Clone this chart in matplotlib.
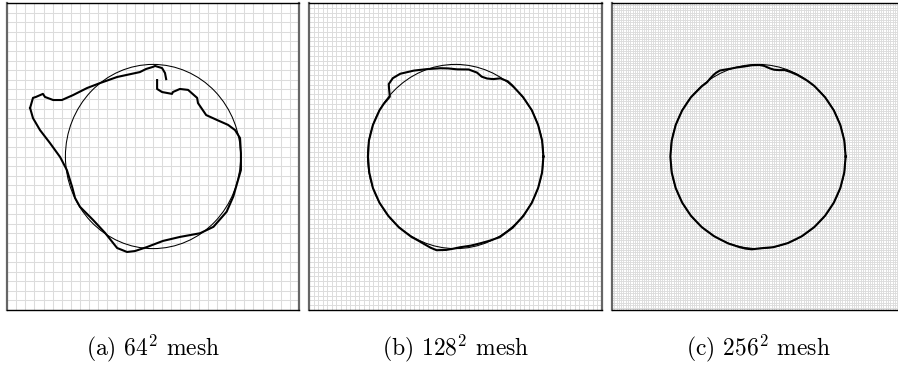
import numpy as np
import matplotlib
matplotlib.use("Agg")
import matplotlib.pyplot as plt
from matplotlib.patches import Circle

plt.rcParams['mathtext.fontset'] = 'cm'

# mesh resolution and the number of grid cells shown in each panel
mesh_sizes = [64, 128, 256]
grid_cells = [32, 64, 128]
panel_tags = ['a', 'b', 'c']

# exact interface: circle in the unit box
circle_center = (0.5, 0.5)
circle_radius = 0.3

# computed interface on the 64^2 mesh (nan = break in the contour)
x64 = [0.079, 0.089, 0.099, 0.123, 0.130, 0.158, 0.188, 0.226, 0.274, 0.318, 0.377, 0.455, 0.476, 0.500,
       0.507, 0.531, 0.541, 0.545, np.nan,
       0.514, 0.514, 0.531, 0.565, 0.568, 0.592, 0.620, 0.651, 0.654, 0.682, 0.719, 0.757, 0.781,
       0.798, 0.801, 0.801, 0.791, 0.775, 0.752, 0.707, 0.661, 0.592, 0.534, 0.479, 0.438, 0.411,
       0.377, 0.336, 0.295, 0.250, 0.233, 0.223, 0.205, 0.182, 0.147, 0.113, 0.089, 0.079]
y64 = [0.658, 0.691, 0.694, 0.704, 0.694, 0.684, 0.684, 0.700, 0.723, 0.739, 0.759, 0.775, 0.785, 0.792,
       0.795, 0.788, 0.772, 0.752, np.nan,
       0.749, 0.720, 0.710, 0.704, 0.710, 0.720, 0.717, 0.691, 0.674, 0.635, 0.619, 0.603, 0.586,
       0.560, 0.511, 0.456, 0.423, 0.370, 0.320, 0.271, 0.250, 0.238, 0.225, 0.205, 0.192, 0.189,
       0.202, 0.251, 0.293, 0.336, 0.365, 0.401, 0.456, 0.498, 0.544, 0.586, 0.625, 0.658]

# computed interface on the 128^2 mesh, polar about the circle centre (deg, radius)
theta128 = [0, 10, 20, 30, 40, 50, 54, 59, 63, 67, 71, 75, 81, 89, 95, 100, 109, 117, 125, 130,
            134, 136, 139, 145, 150, 160, 170, 180, 190, 200, 210, 220, 230, 240, 245, 250, 254,
            258, 264, 268, 273, 280, 286, 293, 300, 310, 320, 330, 340, 350, 360]
r128 = [0.300, 0.300, 0.300, 0.301, 0.301, 0.302, 0.303, 0.297, 0.283, 0.276, 0.275, 0.283, 0.287,
        0.284, 0.288, 0.292, 0.301, 0.314, 0.329, 0.333, 0.328, 0.315, 0.297, 0.299, 0.300, 0.300,
        0.300, 0.299, 0.299, 0.300, 0.300, 0.300, 0.301, 0.302, 0.302, 0.305, 0.309, 0.312, 0.306,
        0.301, 0.296, 0.295, 0.295, 0.298, 0.303, 0.303, 0.302, 0.301, 0.300, 0.300, 0.300]

# computed interface on the 256^2 mesh, polar about the circle centre (deg, radius)
theta256 = [0, 10, 20, 30, 40, 50, 56, 63, 68, 72, 76, 79, 82, 86, 89, 94, 99, 104, 108, 112, 115,
            118, 120, 123, 126, 130, 140, 150, 160, 170, 180, 190, 200, 210, 220, 230, 240, 250,
            258, 262, 266, 272, 280, 290, 300, 310, 320, 330, 340, 350, 360]
r256 = [0.300, 0.300, 0.300, 0.300, 0.300, 0.300, 0.299, 0.298, 0.297, 0.296, 0.290, 0.288, 0.290,
        0.296, 0.298, 0.298, 0.297, 0.299, 0.301, 0.305, 0.309, 0.308, 0.306, 0.302, 0.298, 0.299,
        0.300, 0.300, 0.300, 0.300, 0.300, 0.300, 0.300, 0.300, 0.300, 0.300, 0.300, 0.301, 0.302,
        0.303, 0.303, 0.299, 0.300, 0.300, 0.300, 0.300, 0.300, 0.300, 0.300, 0.300, 0.300]


def polar_to_xy(theta, r):
    t = np.radians(theta)
    r = np.asarray(r)
    return circle_center[0] + r * np.cos(t), circle_center[1] + r * np.sin(t)


interfaces = [(x64, y64), polar_to_xy(theta128, r128), polar_to_xy(theta256, r256)]

fig = plt.figure(figsize=(8.98, 3.67), dpi=100)
lefts = [0.0078, 0.3441, 0.6815]
widths = [0.3252, 0.3263, 0.3252]
grid_lw = [0.75, 0.7, 0.65]

for i in range(3):
    ax = fig.add_axes([lefts[i], 0.1553, widths[i], 0.8365])
    n = grid_cells[i]
    lines = np.linspace(0, 1, n + 1)
    ax.vlines(lines, 0, 1, colors='#dcdcdc', lw=grid_lw[i], zorder=0)
    ax.hlines(lines, 0, 1, colors='#dcdcdc', lw=grid_lw[i], zorder=0)

    ax.add_patch(Circle(circle_center, circle_radius, fill=False, ec='black', lw=0.75, zorder=2))
    xs, ys = interfaces[i]
    ax.plot(xs, ys, color='black', lw=1.5, zorder=3, solid_joinstyle='round')

    ax.set_xlim(0, 1)
    ax.set_ylim(0, 1)
    ax.set_xticks([])
    ax.set_yticks([])
    for side in ['top', 'bottom']:
        ax.spines[side].set_linewidth(1.0)
        ax.spines[side].set_color('black')
    for side in ['left', 'right']:
        ax.spines[side].set_linewidth(1.6)
        ax.spines[side].set_color('#666666')

    cx = lefts[i] + widths[i] / 2
    fig.text(cx, 0.052, '(%s) %d$^2$ mesh' % (panel_tags[i], mesh_sizes[i]),
             ha='center', va='center', fontsize=17, family='cmr10')

fig.savefig('out.png', dpi=100)
